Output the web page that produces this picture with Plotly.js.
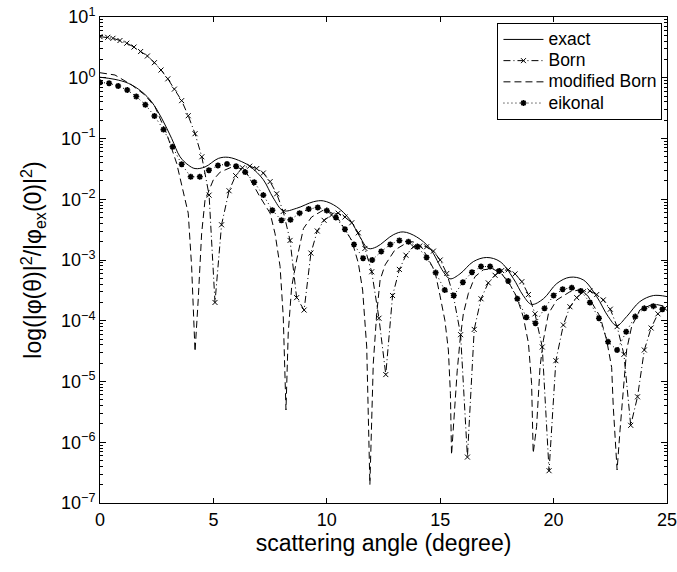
<!DOCTYPE html>
<html>
<head>
<meta charset="utf-8">
<script src="https://cdn.plot.ly/plotly-3.0.1.min.js"></script>
<style>html,body{margin:0;padding:0;background:#fff;}#chart{width:677px;height:572px;}</style>
</head>
<body>
<div id="chart"></div>
<script>
// ---- data ----
const xExact = [0,0.66,1.25,1.84,2.28,2.72,3.16,3.53,3.89,4.19,4.63,5.22,5.66,6.25,6.65,7.2,7.64,8.08,8.67,9.41,9.85,10.44,11.02,11.46,11.83,12.2,12.93,13.37,13.96,14.55,15.14,15.43,15.87,16.46,17.05,17.64,18.22,18.66,19.03,19.55,20.14,20.72,21.31,21.9,22.41,22.78,23.22,23.8,24.4,25];
const yExact = [1.02,0.94,0.81,0.59,0.40,0.215,0.10,0.05,0.0366,0.032,0.034,0.047,0.049,0.0415,0.034,0.021,0.0105,0.0065,0.0071,0.0091,0.0094,0.0075,0.0046,0.0024,0.00155,0.00165,0.0026,0.0029,0.0024,0.00155,0.00064,0.00049,0.00059,0.00094,0.0011,0.00094,0.0005,0.00026,0.000186,0.00023,0.00041,0.00052,0.00047,0.00025,0.000117,0.000083,0.000117,0.000206,0.00026,0.00025];

const xBorn = [0,0.34,0.57,0.88,1.18,1.50,1.79,2.09,2.40,2.69,2.99,3.28,3.60,3.89,4.19,4.49,4.81,5.07,5.36,5.69,5.98,6.28,6.60,6.91,7.20,7.50,7.79,8.08,8.38,8.67,9.00,9.30,9.58,9.88,10.21,10.50,10.80,11.10,11.39,11.68,11.98,12.30,12.60,12.90,13.20,13.49,13.82,14.10,14.40,14.70,15.00,15.29,15.58,15.90,16.20,16.50,16.80,17.12,17.42,17.71,18.00,18.30,18.60,18.89,19.18,19.50,19.80,20.10,20.43,20.72,21.02,21.31,21.60,21.90,22.19,22.50,22.80,23.10,23.40,23.70,24.00,24.30,24.60,24.90];
const yBorn = [4.75,4.63,4.46,4.1,3.7,3.2,2.7,2.28,1.77,1.34,0.96,0.65,0.42,0.237,0.12,0.05,0.0117,0.0002,0.0038,0.0138,0.0245,0.033,0.035,0.032,0.027,0.0195,0.0123,0.0063,0.0021,0.00024,0.00015,0.0013,0.003,0.0045,0.0055,0.0059,0.0051,0.0041,0.0028,0.00155,0.00064,0.00011,0.000013,0.00026,0.0007,0.0012,0.00165,0.0017,0.00165,0.0014,0.001,0.0006,0.00026,0.000059,0.00000057,0.000072,0.00023,0.00042,0.00056,0.00067,0.00069,0.00059,0.00044,0.00027,0.00013,0.000037,0.00000034,0.000022,0.000085,0.00017,0.00024,0.0003,0.00031,0.00027,0.00022,0.000155,0.00008,0.000028,0.0000019,0.0000056,0.000033,0.000076,0.00013,0.00016];

const xModBorn = [0,0.66,1.4,1.98,2.43,2.94,3.38,3.67,3.89,4.04,4.19,4.33,4.48,4.63,5.0,5.3,5.9,6.4,7.05,7.5,7.72,7.94,8.08,8.2,8.3,8.45,8.67,8.97,9.33,9.9,10.4,11.1,11.39,11.58,11.76,11.9,11.98,12.05,12.2,12.35,12.57,13.0,13.5,13.8,14.2,14.77,14.99,15.21,15.36,15.45,15.5,15.62,15.75,15.88,16.02,16.24,16.53,16.9,17.3,17.7,18.1,18.37,18.66,18.89,19.03,19.1,19.25,19.4,19.55,19.77,20.14,20.72,21.1,21.5,22.05,22.34,22.56,22.63,22.8,22.93,23.1,23.22,23.44,23.8,24.4,25];
const yModBorn = [1.21,1.11,0.76,0.52,0.33,0.12,0.039,0.014,0.0059,0.00078,0.000031,0.00022,0.0027,0.0097,0.021,0.028,0.035,0.03,0.011,0.0059,0.0027,0.00078,0.000117,0.0000034,0.000063,0.00036,0.001,0.0033,0.0051,0.0068,0.0055,0.0021,0.00089,0.00032,0.000037,0.0000002,0.000003,0.00002,0.00013,0.00047,0.00083,0.00146,0.0019,0.002,0.0016,0.00065,0.00026,0.0001,0.000033,0.0000063,0.00000062,0.000003,0.000015,0.00005,0.00013,0.00028,0.00053,0.00069,0.00072,0.0006,0.00038,0.00025,0.000117,0.000043,0.0000093,0.00000066,0.0000018,0.000017,0.000048,0.00013,0.00022,0.0003,0.00032,0.00026,0.000117,0.000048,0.000017,0.0000039,0.00000035,0.0000016,0.00001,0.000033,0.00008,0.00015,0.00019,0.00017];

const xEik = [0,0.4,0.8,1.2,1.6,2.0,2.4,2.8,3.2,3.6,4.0,4.4,4.8,5.2,5.6,6.0,6.4,6.8,7.2,7.6,8.0,8.4,8.8,9.2,9.6,10.0,10.4,10.8,11.2,11.6,12.0,12.4,12.8,13.2,13.6,14.0,14.4,14.8,15.2,15.6,16.0,16.4,16.8,17.2,17.6,18.0,18.4,18.8,19.2,19.6,20.0,20.4,20.8,21.2,21.6,22.0,22.4,22.8,23.2,23.6,24.0,24.4,24.8];
const yEik = [0.84,0.81,0.73,0.63,0.49,0.36,0.235,0.14,0.073,0.0376,0.0234,0.0234,0.030,0.036,0.038,0.035,0.028,0.019,0.0117,0.0066,0.0045,0.0046,0.0059,0.0069,0.0073,0.0065,0.005,0.0032,0.0018,0.00107,0.001,0.00138,0.0018,0.0021,0.002,0.00165,0.0011,0.00062,0.00032,0.00026,0.00043,0.00063,0.00078,0.00078,0.00066,0.00045,0.00023,0.000114,0.000091,0.00016,0.00026,0.00033,0.00035,0.00031,0.0002,0.00011,0.000045,0.000033,0.000066,0.000117,0.00016,0.000174,0.000155];

const seriesNames = ['exact','Born','modified Born','eikonal'];
const xTickVals = [0,5,10,15,20,25];
const yTickVals = [1e-7,1e-6,1e-5,1e-4,1e-3,1e-2,1e-1,1,10];
const yTickText = ['10<sup>\u22127</sup>','10<sup>\u22126</sup>','10<sup>\u22125</sup>','10<sup>\u22124</sup>','10<sup>\u22123</sup>','10<sup>\u22122</sup>','10<sup>\u22121</sup>','10<sup>0</sup>','10<sup>1</sup>'];

function legendLabel(s){ return '<span style="font-size:17.5px">' + s + '</span>'; }

const traces = [
  {x:xExact, y:yExact, name:legendLabel(seriesNames[0]), mode:'lines', line:{color:'black', width:1, shape:'spline', smoothing:1}},
  {x:xBorn, y:yBorn, name:legendLabel(seriesNames[1]), mode:'lines+markers', line:{color:'black', width:1, dash:'7px,3px,1px,3px'}, marker:{symbol:'x-thin-open', size:5, color:'black', line:{color:'black', width:1}}},
  {x:xModBorn, y:yModBorn, name:legendLabel(seriesNames[2]), mode:'lines', line:{color:'black', width:1, dash:'7px,4px'}},
  {x:xEik, y:yEik, name:legendLabel(seriesNames[3]), mode:'lines+markers', line:{color:'black', width:1, dash:'1px,3px'}, marker:{symbol:'asterisk-open', size:5, color:'black', line:{color:'black', width:1.6}}}
];

const font = 'Liberation Sans, Arial, Helvetica, sans-serif';
const layout = {
  width:677, height:572,
  margin:{l:100, r:10, t:17, b:69},
  paper_bgcolor:'white', plot_bgcolor:'white',
  font:{family:font, color:'black', size:18},
  showlegend:true,
  legend:{x:0.992, xanchor:'right', y:0.988, yanchor:'top', bgcolor:'white', bordercolor:'black', borderwidth:1, font:{size:14, family:font}, tracegroupgap:0, itemwidth:40},
  xaxis:{
    range:[0,25], tickmode:'array', tickvals:xTickVals, ticks:'inside', ticklen:5, tickcolor:'black',
    showline:true, linecolor:'black', linewidth:1, mirror:'ticks', showgrid:false, zeroline:false,
    ticklabeloverflow:'allow',
    tickfont:{size:18}, title:{text:'scattering angle (degree)', font:{size:23}, standoff:4}
  },
  yaxis:{
    type:'log', range:[-7,1], tickmode:'array', tickvals:yTickVals, ticktext:yTickText,
    ticks:'inside', ticklen:6, tickcolor:'black',
    showline:true, linecolor:'black', linewidth:1, mirror:'ticks', showgrid:false, zeroline:false,
    minor:{ticks:'inside', ticklen:3, tickcolor:'black', dtick:'D1', showgrid:false},
    tickfont:{size:18},
    title:{text:'log(|\u03c6(\u03b8)|<sup>2</sup>/|\u03c6<sub>ex</sub>(0)|<sup>2</sup>)', font:{size:23}, standoff:12}
  }
};

Plotly.newPlot('chart', traces, layout, {displayModeBar:false, staticPlot:true});
</script>
</body>
</html>
